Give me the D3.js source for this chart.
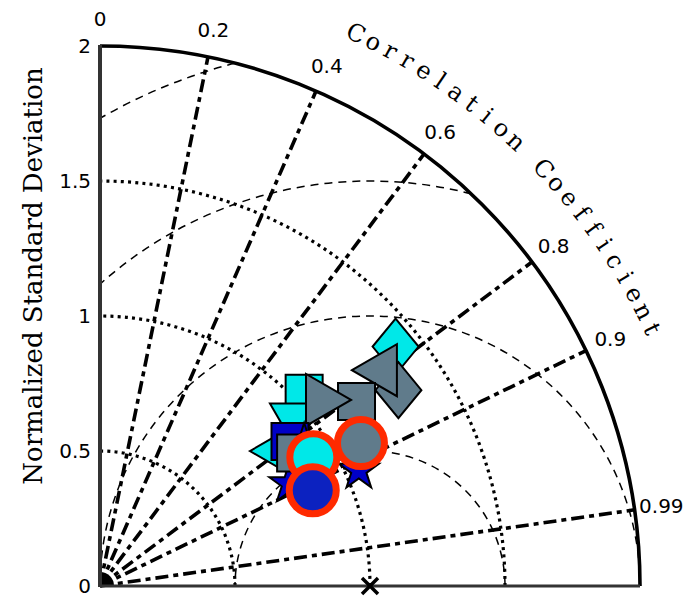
<!DOCTYPE html>
<html>
<head>
<meta charset="utf-8">
<script src="https://cdn.jsdelivr.net/npm/d3@7"></script>
<style>
  body { margin: 0; background: #fff; }
  svg { display: block; }
</style>
</head>
<body>
<svg id="chart" width="696" height="597"></svg>
<script>
// Taylor diagram: radius = normalized standard deviation, angle = acos(correlation)

// axis ticks
const stdTicks = [0, 0.5, 1, 1.5, 2];
const stdTickLabels = ["0", "0.5", "1", "1.5", "2"];
const stdArcs = [0.5, 1, 1.5];
const corrTicks = [0, 0.2, 0.4, 0.6, 0.8, 0.9, 0.99];
const corrTickLabels = ["0", "0.2", "0.4", "0.6", "0.8", "0.9", "0.99"];
const rmsLevels = [0.5, 1, 1.5, 2];
const refStd = 1;
const refCorr = 1;

// individual models, listed in drawing order
const modelGroup = ["c", "c", "c", "c", "g", "g", "g", "g", "b", "b", "b", "g", "b"];
const modelShape = ["diamond", "square", "triangleDown", "triangleLeft",
                    "diamond", "triangleLeft", "square", "triangleRight",
                    "square", "star", "star", "square", "star"];
const modelStd  = [1.409, 1.040, 0.955, 0.833, 1.322, 1.315, 1.170, 1.070, 0.884, 0.921, 0.797, 0.876, 1.050];
const modelCorr = [0.777, 0.727, 0.760, 0.800, 0.836, 0.794, 0.812, 0.765, 0.796, 0.821, 0.880, 0.827, 0.913];

// group means (ringed circles)
const meanGroup = ["c", "g", "b"];
const meanStd  = [0.923, 1.102, 0.864];
const meanCorr = [0.856, 0.877, 0.912];

const groupFill = { c: "#00e8e8", g: "#607b8b", b: "#0000c8" };
const meanFill  = { c: "#00e8e8", g: "#607b8b", b: "#0c22c0" };

const svg = d3.select("#chart");
const cx = 100, cy = 586;
const rMax = 2;
const r = d3.scaleLinear().domain([0, rMax]).range([0, 540]);
const yScale = d3.scaleLinear().domain([0, rMax]).range([cy, cy - r(rMax)]);

function pos(sd, corr) {
  const th = Math.acos(corr);
  return [cx + r(sd) * Math.cos(th), cy - r(sd) * Math.sin(th)];
}

const grid = svg.append("g");

// correlation rays
grid.selectAll(".ray")
  .data(corrTicks.filter(c => c > 0))
  .join("line")
  .attr("x1", cx).attr("y1", cy)
  .attr("x2", d => pos(rMax, d)[0])
  .attr("y2", d => pos(rMax, d)[1])
  .attr("stroke", "#000")
  .attr("stroke-width", 3.6)
  .attr("stroke-dasharray", "13,5,5,5");

// standard deviation arcs (dotted)
grid.selectAll(".sdarc")
  .data(stdArcs)
  .join("path")
  .attr("d", d => {
    const p = d3.path();
    p.moveTo(cx + r(d), cy);
    p.arc(cx, cy, r(d), 0, -Math.PI / 2, true);
    return p.toString();
  })
  .attr("fill", "none")
  .attr("stroke", "#000")
  .attr("stroke-width", 3.2)
  .attr("stroke-dasharray", "3,4.2");

// centred RMS difference arcs around the reference point
const refX = cx + r(refStd);
grid.selectAll(".rms")
  .data(rmsLevels)
  .join("path")
  .attr("d", d => {
    const s = refStd;
    const cUpper = (rMax * rMax - s * s - d * d) / (2 * s * d);
    const phiA = cUpper >= 1 ? 0 : Math.acos(Math.max(-1, cUpper));
    const phiB = d <= s ? Math.PI : Math.acos(-s / d);
    const p = d3.path();
    p.moveTo(refX + r(d) * Math.cos(phiA), cy - r(d) * Math.sin(phiA));
    p.arc(refX, cy, r(d), -phiA, -phiB, true);
    return p.toString();
  })
  .attr("fill", "none")
  .attr("stroke", "#000")
  .attr("stroke-width", 1.5)
  .attr("stroke-dasharray", "8,6");

// dense hub where the rays meet
grid.append("path")
  .attr("transform", `translate(${cx},${cy})`)
  .attr("d", d3.arc()({ innerRadius: 0, outerRadius: 14, startAngle: 0, endAngle: Math.PI / 2 }))
  .attr("fill", "#000");

// outer boundary
grid.append("path")
  .attr("d", () => {
    const p = d3.path();
    p.moveTo(cx + r(rMax), cy);
    p.arc(cx, cy, r(rMax), 0, -Math.PI / 2, true);
    return p.toString();
  })
  .attr("fill", "none")
  .attr("stroke", "#000")
  .attr("stroke-width", 3.6);

// left and bottom axes
svg.append("line")
  .attr("x1", cx).attr("y1", yScale(rMax) - 1)
  .attr("x2", cx).attr("y2", cy + 1)
  .attr("stroke", "#333").attr("stroke-width", 4);
svg.append("line")
  .attr("x1", cx).attr("y1", cy)
  .attr("x2", cx + r(rMax)).attr("y2", cy)
  .attr("stroke", "#333").attr("stroke-width", 3);

const yAxis = svg.append("g")
  .attr("transform", `translate(${cx},0)`)
  .call(d3.axisLeft(yScale)
    .tickValues(stdTicks)
    .tickFormat((d, i) => stdTickLabels[i])
    .tickSize(0)
    .tickPadding(9));
yAxis.select(".domain").remove();
yAxis.selectAll("text")
  .attr("font-family", "DejaVu Sans")
  .attr("font-size", 20)
  .attr("fill", "#000");

// correlation tick labels
svg.append("g").selectAll("text")
  .data(corrTicks)
  .join("text")
  .attr("x", d => cx + (r(rMax) + 27) * d)
  .attr("y", d => cy - (r(rMax) + 27) * Math.sqrt(1 - d * d))
  .attr("text-anchor", "middle")
  .attr("dominant-baseline", "central")
  .attr("font-family", "DejaVu Sans")
  .attr("font-size", 20)
  .text((d, i) => corrTickLabels[i]);

// curved axis title, one character per step along the arc
const corrTitle = "Correlation Coefficient";
const titleRadius = 609;
const titleStep = 1.826;
const titleMid = 45.06;
svg.append("g").selectAll("text")
  .data(corrTitle.split(""))
  .join("text")
  .attr("transform", (ch, i) => {
    const deg = titleMid + ((corrTitle.length - 1) / 2 - i) * titleStep;
    const a = deg * Math.PI / 180;
    const x = cx + titleRadius * Math.cos(a);
    const y = cy - titleRadius * Math.sin(a);
    return `translate(${x},${y}) rotate(${90 - deg})`;
  })
  .attr("text-anchor", "middle")
  .attr("dominant-baseline", "central")
  .attr("font-family", "DejaVu Serif")
  .attr("font-size", 24)
  .text(ch => ch);

// y-axis title
svg.append("text")
  .attr("transform", `translate(42,${yScale(1) - 40}) rotate(-90)`)
  .attr("text-anchor", "middle")
  .attr("font-family", "DejaVu Serif")
  .attr("font-size", 26)
  .text("Normalized Standard Deviation");

// marker outlines, centred on (0,0)
function markerPath(shape) {
  const p = d3.path();
  if (shape === "square") {
    const h = 18.5;
    p.rect(-h, -h, 2 * h, 2 * h);
  } else if (shape === "diamond") {
    p.moveTo(0, -28); p.lineTo(23, 0); p.lineTo(0, 28); p.lineTo(-23, 0); p.closePath();
  } else if (shape === "triangleLeft") {
    p.moveTo(-30, 0); p.lineTo(15, -26); p.lineTo(15, 26); p.closePath();
  } else if (shape === "triangleRight") {
    p.moveTo(30, 0); p.lineTo(-15, -26); p.lineTo(-15, 26); p.closePath();
  } else if (shape === "triangleDown") {
    p.moveTo(0, 30); p.lineTo(-26, -15); p.lineTo(26, -15); p.closePath();
  } else if (shape === "star") {
    return d3.symbol(d3.symbolStar, 21 * 21 / 0.8908130915292852)();
  }
  return p.toString();
}

const models = modelStd.map((s, i) => ({
  sd: s, corr: modelCorr[i], shape: modelShape[i], group: modelGroup[i]
}));
svg.append("g").selectAll("path")
  .data(models)
  .join("path")
  .attr("transform", d => `translate(${pos(d.sd, d.corr)})`)
  .attr("d", d => markerPath(d.shape))
  .attr("fill", d => groupFill[d.group])
  .attr("stroke", "#000")
  .attr("stroke-width", 2)
  .attr("stroke-linejoin", "miter");

// group means
const means = meanStd.map((s, i) => ({ sd: s, corr: meanCorr[i], group: meanGroup[i] }));
svg.append("g").selectAll("circle")
  .data(means)
  .join("circle")
  .attr("cx", d => pos(d.sd, d.corr)[0])
  .attr("cy", d => pos(d.sd, d.corr)[1])
  .attr("r", 23.5)
  .attr("fill", d => meanFill[d.group])
  .attr("stroke", "#ff2a00")
  .attr("stroke-width", 7);

// reference point
const refPos = pos(refStd, refCorr);
svg.append("path")
  .attr("transform", `translate(${refPos})`)
  .attr("d", "M-8,-8L8,8M-8,8L8,-8")
  .attr("stroke", "#000")
  .attr("stroke-width", 3.5);
</script>
</body>
</html>
